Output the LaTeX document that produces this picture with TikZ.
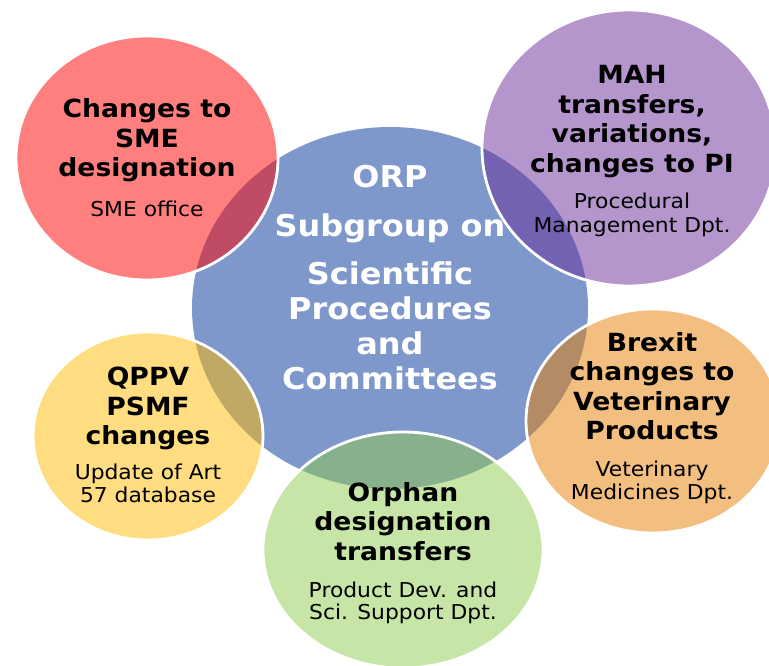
\documentclass[tikz,border=0pt]{standalone}
\usepackage{fontspec}
\setmainfont{DejaVu Sans}[FakeStretch=1.065]
\usepackage{xcolor}
\usepackage{tikz}
\usetikzlibrary{shapes.geometric}
\definecolor{ctrColor}{RGB}{127,152,203}
\definecolor{smeColor}{RGB}{255,0,0}
\definecolor{mahColor}{RGB}{105,45,155}
\definecolor{vetColor}{RGB}{231,127,1}
\definecolor{qppvColor}{RGB}{255,187,1}
\definecolor{orphColor}{RGB}{141,203,79}
\newcommand{\subfnt}{\fontsize{20.5}{23}\selectfont\mdseries}
\tikzset{
	bub/.style={ellipse,draw=white,line width=2.8pt,inner sep=0pt,fill opacity=0.5},
	ttl/.style={align=center,inner sep=0pt,text=black,font=\fontsize{25}{29.5}\selectfont\bfseries},
}

\begin{document}
\begin{tikzpicture}[x=1pt,y=-1pt]
\useasboundingbox (0,0) rectangle (769,666);
% centre
\node[ellipse,fill=ctrColor,inner sep=0pt,minimum width=396pt,minimum height=362pt] (orp) at (390,308) {};
\node[align=center,inner sep=0pt,text=white,font=\fontsize{30}{35}\selectfont\bfseries] (orptxt) at (390,278) {ORP\\[14pt]Subgroup on\\[13pt]Scientific\\Procedures\\and\\Committees};
% outer bubbles
\node[bub,fill=smeColor,minimum width=262pt,minimum height=244pt] (sme) at (147,158) {};
\node[bub,fill=mahColor,minimum width=294pt,minimum height=276pt] (mah) at (629,148) {};
\node[bub,fill=vetColor,minimum width=254pt,minimum height=224pt] (vet) at (653,421) {};
\node[bub,fill=qppvColor,minimum width=230pt,minimum height=208pt] (qppv) at (148,436) {};
\node[bub,fill=orphColor,minimum width=280pt,minimum height=236pt] (orph) at (403,550) {};
%
\node[ttl] (smetxt) at (147,158) {Changes to\\SME\\designation\\[10.5pt]{\subfnt SME office}};
\node[ttl] (mahtxt) at (632,151) {MAH\\transfers,\\variations,\\changes to PI\\[6.5pt]{\subfnt Procedural}\\[-5.5pt]{\subfnt Management Dpt.}};
\node[ttl] (vettxt) at (652,418) {Brexit\\changes to\\Veterinary\\Products\\[7.5pt]{\subfnt Veterinary}\\[-6.5pt]{\subfnt Medicines Dpt.}};
\node[ttl] (qppvtxt) at (148,435) {QPPV\\PSMF\\changes\\[5.5pt]{\subfnt Update of Art}\\[-6.5pt]{\subfnt 57 database}};
\node[ttl] (orphtxt) at (403,553) {Orphan\\designation\\transfers\\[7.5pt]{\subfnt Product Dev. and}\\[-7.5pt]{\subfnt Sci. Support Dpt.}};
%
\end{tikzpicture}
\end{document}
